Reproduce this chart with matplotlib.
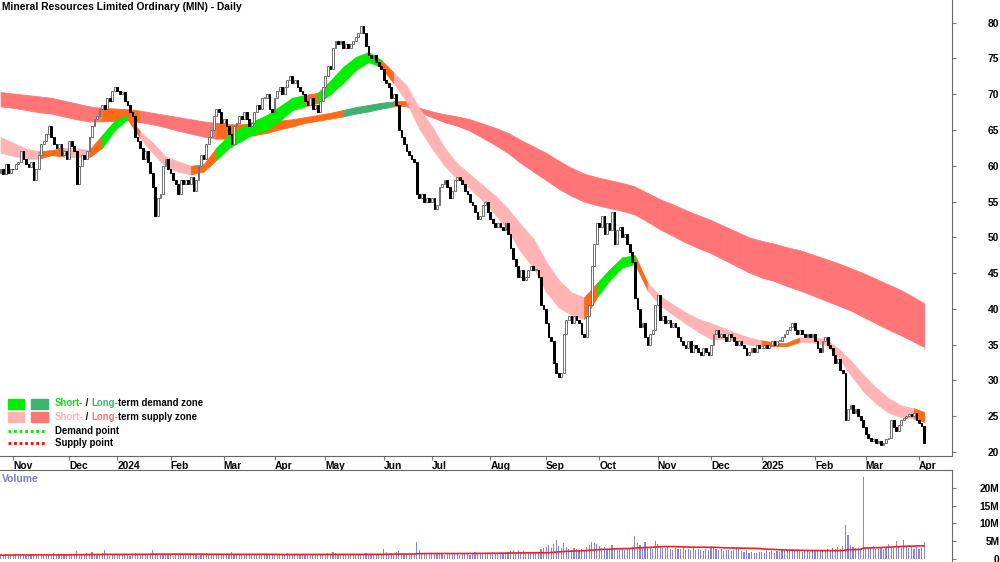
import numpy as np
import pandas as pd
import matplotlib
matplotlib.use("Agg")
import matplotlib.pyplot as plt
from matplotlib import font_manager as fm
from matplotlib.patches import Rectangle
from matplotlib.lines import Line2D

# the chart uses a narrow bold sans; fall back to the normal width, scaled down
try:
    fm.findfont(fm.FontProperties(family='Liberation Sans Narrow', weight='bold'),
                fallback_to_default=False)
    FAMILY, SCALE = 'Liberation Sans Narrow', 1.0
except ValueError:
    FAMILY, SCALE = 'Liberation Sans', 0.82
plt.rcParams['font.family'] = [FAMILY, 'DejaVu Sans']
plt.rcParams['font.weight'] = 'bold'
FS = 9.0 * SCALE
FS_LEG = 8.5 * SCALE

# ---- data ----
title = "Mineral Resources Limited Ordinary (MIN) - Daily"
asx_holidays = ["2023-12-25", "2023-12-26", "2024-01-01", "2024-01-26", "2024-03-29",
                "2024-04-01", "2024-04-25", "2024-06-10", "2024-12-25", "2024-12-26",
                "2025-01-01", "2025-01-27"]

# daily closes, one list per month
first_open = 59.0
c_2023_10 = [59.5, 58.8, 60.2, 59.0, 59.6]
c_2023_11 = [59.5, 60.2, 60.5, 62.0, 61.0, 60.2, 59.8, 60.5, 58.0, 59.5, 61.5, 63.0, 63.5, 64.5,
             65.5, 64.0, 63.0, 62.5, 63.0, 61.5, 62.0, 61.0]
c_2023_12 = [63.5, 62.8, 62.0, 57.5, 60.0, 61.5, 61.0, 62.0, 64.0, 65.5, 66.5, 67.0, 68.0, 68.5,
             68.0, 69.5, 69.0, 70.5, 71.0]
c_2024_01 = [70.5, 70.0, 70.3, 69.0, 68.5, 67.5, 67.0, 64.0, 63.5, 62.5, 61.0, 62.0, 60.5, 59.0,
             57.0, 53.0, 55.5, 56.0, 60.0, 61.0, 59.5]
c_2024_02 = [59.0, 58.0, 57.5, 56.0, 58.0, 57.5, 58.0, 57.5, 58.5, 56.5, 58.0, 60.0, 61.5, 61.0,
             63.0, 64.0, 65.0, 67.0, 68.0, 67.5, 66.0]
c_2024_03 = [66.5, 65.5, 64.5, 63.0, 65.5, 66.0, 67.0, 66.5, 67.5, 66.5, 65.5, 66.0, 67.5, 68.5,
             68.0, 69.5, 69.5, 70.0, 68.0, 67.5]
c_2024_04 = [69.5, 70.5, 71.0, 70.0, 71.0, 72.0, 72.5, 71.5, 72.0, 71.0, 70.5, 70.0, 69.0, 68.5,
             69.5, 68.0, 68.5, 67.5, 69.0, 71.0]
c_2024_05 = [72.5, 74.0, 73.5, 76.5, 77.5, 77.0, 77.5, 76.5, 77.0, 76.5, 77.0, 77.5, 78.0, 78.5,
             79.5, 78.5, 76.8, 75.5, 75.0, 75.5, 74.5, 74.0, 73.5]
c_2024_06 = [72.0, 71.5, 71.0, 69.5, 70.0, 68.5, 65.0, 64.0, 63.0, 62.0, 61.5, 61.0, 60.5, 56.0,
             55.5, 56.0, 55.0, 55.5, 55.0]
c_2024_07 = [55.5, 54.0, 54.5, 57.0, 57.5, 58.0, 57.0, 55.5, 56.5, 58.0, 58.5, 58.0, 57.5, 56.5,
             56.0, 55.0, 54.5, 53.5, 52.5, 53.0, 54.5, 55.0, 53.5]
c_2024_08 = [52.5, 52.0, 51.5, 52.0, 51.5, 51.0, 52.0, 50.5, 48.5, 47.0, 46.0, 44.5, 45.5, 44.0,
             44.5, 45.5, 46.0, 45.5, 45.5, 44.5, 40.5, 40.0]
c_2024_09 = [38.0, 36.0, 35.5, 32.5, 31.0, 30.5, 31.0, 36.5, 38.5, 39.0, 38.0, 39.0, 38.5, 38.0,
             36.5, 36.0, 39.0, 40.5, 46.0, 49.0, 52.0]
c_2024_10 = [51.5, 53.0, 50.5, 52.0, 51.0, 53.5, 49.0, 51.0, 51.5, 50.0, 50.5, 49.0, 48.0, 46.5,
             41.5, 40.0, 37.5, 38.0, 36.0, 35.0, 36.5, 37.0, 40.5]
c_2024_11 = [42.0, 38.5, 39.0, 38.0, 38.5, 37.5, 38.0, 37.5, 36.0, 35.5, 35.0, 34.5, 35.5, 34.0,
             35.0, 34.5, 34.0, 33.5, 34.5, 34.0, 33.5]
c_2024_12 = [35.0, 36.5, 37.0, 36.0, 36.5, 36.0, 35.5, 36.5, 36.0, 35.5, 35.0, 35.5, 35.0, 34.5,
             33.5, 34.0, 34.5, 34.0, 35.0, 34.5]
c_2025_01 = [34.5, 35.0, 34.5, 35.0, 35.5, 35.0, 35.5, 35.5, 36.0, 36.5, 37.0, 37.5, 38.0, 37.0,
             36.5, 37.0, 36.5, 36.0, 36.5, 36.0, 36.5]
c_2025_02 = [35.5, 34.5, 34.0, 35.5, 36.0, 35.0, 34.5, 33.5, 32.5, 33.0, 31.5, 31.0, 24.5, 26.0,
             26.5, 25.5, 26.0, 25.0, 24.5, 23.5]
c_2025_03 = [22.5, 22.0, 21.5, 21.8, 21.2, 21.5, 21.0, 21.3, 21.8, 22.0, 24.5, 23.5, 23.0, 23.8,
             24.5, 24.8, 25.0, 25.3, 25.0, 25.5, 24.5]
c_2025_04 = [24.0, 23.6, 21.3]

# daily volume (millions), one list per month
v_2023_10 = [1.0, 0.8, 1.2, 0.9, 1.1]
v_2023_11 = [0.9, 1.3, 0.8, 1.0, 1.1, 0.7, 0.9, 1.2, 1.4, 1.0, 0.8, 1.1, 0.9, 1.3, 1.0, 0.8, 1.5,
             1.1, 0.9, 1.2, 1.0, 1.3]
v_2023_12 = [1.1, 0.9, 1.4, 2.2, 1.2, 1.0, 1.3, 1.5, 1.1, 1.8, 1.2, 1.4, 1.1, 1.6, 2.4, 1.3, 0.7,
             0.9, 1.1]
v_2024_01 = [1.0, 1.2, 0.9, 1.1, 1.3, 0.8, 1.0, 1.5, 1.2, 1.4, 1.1, 1.3, 1.0, 1.6, 2.5, 1.4, 1.2,
             1.0, 1.3, 0.9, 1.1]
v_2024_02 = [1.0, 0.8, 1.1, 1.3, 0.9, 1.0, 1.2, 0.9, 1.1, 1.4, 1.0, 0.8, 1.2, 1.1, 1.5, 1.3, 1.0,
             1.4, 1.2, 1.0, 1.1]
v_2024_03 = [1.2, 1.5, 1.1, 1.8, 1.3, 1.0, 1.2, 0.9, 1.4, 1.1, 1.0, 1.3, 1.2, 1.0, 1.1, 1.4, 0.9,
             1.2, 1.0, 1.1]
v_2024_04 = [1.0, 1.2, 1.1, 0.9, 1.3, 1.6, 1.2, 1.0, 1.1, 0.9, 1.2, 1.0, 1.3, 1.1, 0.9, 1.4, 1.0,
             1.2, 1.1, 1.3]
v_2024_05 = [1.4, 1.6, 1.2, 1.8, 1.5, 1.1, 1.3, 1.0, 1.2, 0.9, 1.1, 1.3, 1.0, 1.2, 1.4, 1.1, 1.5,
             1.2, 1.0, 1.1, 1.3, 1.2, 1.0]
v_2024_06 = [2.6, 1.8, 1.4, 1.5, 1.2, 1.9, 2.1, 1.3, 1.4, 1.2, 1.1, 1.3, 1.5, 4.6, 2.3, 1.6, 1.4,
             1.2, 1.3]
v_2024_07 = [1.4, 1.7, 1.2, 1.5, 1.3, 1.1, 1.4, 1.2, 1.3, 1.6, 1.2, 1.0, 1.3, 1.5, 1.2, 1.1, 1.4,
             1.8, 1.6, 1.3, 1.2, 1.5, 1.7]
v_2024_08 = [1.6, 1.9, 1.5, 1.4, 1.7, 1.3, 1.5, 1.8, 2.2, 2.5, 1.9, 2.3, 1.8, 2.1, 1.7, 1.6, 1.9,
             1.7, 1.5, 1.8, 2.8, 3.0]
v_2024_09 = [3.4, 3.8, 2.9, 4.2, 5.2, 3.6, 3.1, 4.5, 3.3, 2.8, 2.4, 2.9, 2.6, 2.3, 2.7, 2.5, 3.4,
             3.9, 4.8, 4.4, 4.0]
v_2024_10 = [3.6, 2.9, 3.3, 2.7, 2.6, 3.8, 3.1, 2.5, 2.4, 2.8, 2.3, 2.6, 2.9, 3.4, 6.4, 4.3, 3.7,
             3.2, 4.6, 3.4, 3.0, 2.8, 4.9]
v_2024_11 = [4.2, 3.5, 3.1, 2.9, 3.3, 2.7, 2.5, 3.0, 2.8, 2.6, 3.2, 2.4, 2.7, 2.5, 2.9, 2.3, 2.6,
             2.4, 2.2, 2.8, 2.5]
v_2024_12 = [2.9, 3.3, 2.6, 2.4, 2.7, 2.2, 2.5, 2.3, 2.1, 2.4, 3.0, 2.6, 2.2, 1.9, 2.4, 1.6, 1.8,
             1.5, 1.7, 1.9]
v_2025_01 = [1.8, 1.6, 2.1, 1.9, 2.2, 1.7, 2.0, 1.8, 2.3, 2.5, 2.1, 2.8, 2.6, 2.2, 2.0, 2.4, 1.9,
             2.1, 2.3, 1.8, 2.0]
v_2025_02 = [2.2, 2.5, 2.0, 2.3, 2.1, 2.6, 2.4, 3.1, 2.8, 3.3, 2.7, 3.6, 9.6, 6.6, 3.8, 3.2, 2.9,
             3.0, 2.8, 23.0]
v_2025_03 = [3.4, 3.1, 2.9, 3.5, 2.8, 3.2, 3.0, 2.7, 3.3, 4.0, 3.6, 3.1, 4.9, 3.4, 2.9, 5.2, 3.3,
             3.0, 3.6, 2.8, 3.2]
v_2025_04 = [2.6, 3.0, 4.6]

# trend zones, read every 5 trading days (D = demand, S = supply, N = neutral)
anchor_idx = list(range(0, 361, 5)) + [364]
short_hi = [64.0, 63.2, 62.4, 62.0, 62.2, 62.5, 62.4, 62.2, 64.3, 66.3,
            67.1, 64.8, 63.2, 61.3, 60.6, 60.0, 60.2, 62.5, 64.3, 65.4,
            66.3, 67.1, 68.3, 69.5, 69.9, 70.2, 71.9, 73.8, 75.2, 75.9,
            74.8, 73.0, 71.2, 68.0, 65.5, 62.5, 60.3, 58.8, 57.3, 55.8,
            54.0, 51.8, 49.8, 46.6, 44.0, 42.3, 41.6, 43.6, 45.5, 47.2,
            47.5, 43.6, 41.8, 40.6, 39.5, 38.6, 38.0, 37.3, 36.6, 36.0,
            35.6, 35.3, 35.3, 36.0, 36.0, 35.8, 34.5, 32.8, 30.8, 29.0,
            27.5, 26.5, 26.1, 25.6]
short_lo = [61.8, 61.4, 61.0, 61.0, 61.5, 61.3, 61.2, 61.2, 62.5, 65.0,
            66.5, 63.9, 61.8, 59.9, 59.2, 58.8, 59.2, 60.8, 62.5, 63.5,
            64.5, 65.0, 66.3, 67.8, 68.3, 68.8, 70.0, 71.6, 73.4, 74.5,
            73.8, 71.5, 69.0, 65.2, 62.5, 60.0, 58.2, 56.8, 55.2, 53.2,
            51.0, 48.0, 45.8, 42.4, 40.2, 39.2, 38.6, 41.6, 44.0, 45.8,
            46.3, 42.6, 40.5, 39.2, 38.0, 36.8, 35.8, 35.8, 35.5, 35.0,
            34.8, 34.8, 34.8, 35.4, 35.3, 35.0, 33.4, 30.8, 28.5, 26.8,
            25.5, 24.9, 24.7, 24.2]
short_zone = "SSSNNSSNDD" "NSSSSNNDDD" "DDDDNDDDDD" "NSSSSSSSSS" "SSSSSSNDDD" "NSSSSSSSSS" "NNNSSSSSSS" "SSNN"
long_hi = [70.3, 70.1, 69.9, 69.7, 69.5, 69.1, 68.7, 68.3, 68.1, 68.0,
           67.9, 67.7, 67.4, 67.1, 66.8, 66.5, 66.2, 66.0, 65.8, 65.8,
           65.9, 66.1, 66.3, 66.5, 66.8, 67.1, 67.4, 67.8, 68.2, 68.5,
           68.8, 69.0, 69.0, 68.1, 67.6, 67.2, 66.9, 66.5, 65.9, 65.3,
           64.6, 63.6, 62.7, 61.8, 60.7, 59.7, 58.9, 58.4, 58.0, 57.6,
           57.1, 56.2, 55.3, 54.6, 53.8, 53.1, 52.4, 51.6, 50.8, 50.0,
           49.5, 49.1, 48.6, 48.2, 47.6, 47.0, 46.4, 45.7, 45.0, 44.2,
           43.4, 42.6, 41.6, 40.8]
long_lo = [68.3, 68.1, 67.8, 67.5, 67.3, 66.9, 66.5, 66.2, 66.2, 66.3,
           66.4, 66.1, 65.8, 65.4, 64.9, 64.5, 64.1, 63.8, 63.8, 64.0,
           64.3, 64.6, 65.1, 65.5, 66.0, 66.3, 66.6, 66.9, 67.3, 67.6,
           68.0, 68.3, 68.3, 67.5, 66.8, 66.1, 65.6, 64.9, 63.9, 62.9,
           61.8, 60.4, 59.2, 58.0, 56.8, 55.8, 55.0, 54.5, 54.1, 53.7,
           53.2, 52.2, 51.1, 50.2, 49.3, 48.5, 47.8, 46.9, 46.0, 45.1,
           44.4, 43.9, 43.2, 42.6, 41.9, 41.2, 40.5, 39.8, 38.9, 38.0,
           37.1, 36.3, 35.4, 34.7]
long_zone = "SSSSSSSSNN" "NSSSSSSNNN" "NNNNNNNDDD" "DNSSSSSSSS" + "S" * 34

price_ticks = list(range(20, 81, 5))
vol_ticks = [0, 5, 10, 15, 20]
vol_tick_labels = ["0", "5M", "10M", "15M", "20M"]

# ---- assemble ----
closes = np.concatenate([c_2023_10, c_2023_11, c_2023_12, c_2024_01, c_2024_02, c_2024_03,
                         c_2024_04, c_2024_05, c_2024_06, c_2024_07, c_2024_08, c_2024_09,
                         c_2024_10, c_2024_11, c_2024_12, c_2025_01, c_2025_02, c_2025_03,
                         c_2025_04])
volume = np.concatenate([v_2023_10, v_2023_11, v_2023_12, v_2024_01, v_2024_02, v_2024_03,
                         v_2024_04, v_2024_05, v_2024_06, v_2024_07, v_2024_08, v_2024_09,
                         v_2024_10, v_2024_11, v_2024_12, v_2025_01, v_2025_02, v_2025_03,
                         v_2025_04])
dates = pd.bdate_range("2023-10-25", "2025-04-03", freq="C", holidays=asx_holidays)
n = len(closes)
dates = dates[:n]
x = np.arange(n)
opens = np.r_[first_open, closes[:-1]]

W, H = 1000, 562
fig = plt.figure(figsize=(10, 5.62), dpi=100)
ax = fig.add_axes([0, 1 - 455.7 / H, 952 / W, 455.7 / H])
axv = fig.add_axes([0, 0, 952 / W, 92 / H], sharex=ax)

short_cols = {'D': '#00ee00', 'S': '#ffb3b3', 'N': '#ff6a1a'}
long_cols = {'D': '#3cb371', 'S': '#ff7575', 'N': '#ff6a1a'}


def draw_band(lo, hi, zones, cols, z):
    for j in range(len(anchor_idx) - 1):
        c = cols[zones[j]]
        ax.fill_between(anchor_idx[j:j + 2], lo[j:j + 2], hi[j:j + 2], color=c, lw=0.6, zorder=z)


draw_band(long_lo, long_hi, long_zone, long_cols, 1)
draw_band(short_lo, short_hi, short_zone, short_cols, 2)

# candles
up = closes >= opens
body_lo = np.minimum(opens, closes)
body_h = np.maximum(np.abs(closes - opens), 0.1)
ax.bar(x[up], body_h[up], bottom=body_lo[up], width=0.7, color='white',
       edgecolor='#707070', linewidth=0.7, zorder=3)
ax.bar(x[~up], body_h[~up], bottom=body_lo[~up], width=0.7, color='black',
       edgecolor='black', linewidth=0.7, zorder=3)

# volume
axv.bar(x, volume, width=0.45, color='#8686d8', zorder=2)
vol_ma = pd.Series(volume).rolling(50, min_periods=1).mean()
axv.plot(x, vol_ma, color='#ff1a1a', lw=1.2, zorder=3)

# axes styling
ax.set_xlim(-0.24, 375.0)
ax.set_ylim(19.48, 83.17)
axv.set_ylim(-0.99, 25.1)

month_start = [i for i in range(1, n) if dates[i].month != dates[i - 1].month]
month_lab = [str(dates[i].year) if dates[i].month == 1 else dates[i].strftime('%b')
             for i in month_start]
ax.set_xticks(month_start, month_lab)
ax.tick_params(axis='x', direction='out', length=3, pad=0.5, labelsize=FS,
               color='#777777', labelcolor='black')
for t in ax.get_xticklabels():
    t.set_horizontalalignment('left')

ax.yaxis.tick_right()
ax.set_yticks(price_ticks)
ax.tick_params(axis='y', direction='out', length=3, pad=31, labelsize=FS,
               color='#777777', labelcolor='black')
for t in ax.get_yticklabels():
    t.set_horizontalalignment('right')

axv.yaxis.tick_right()
axv.set_yticks(vol_ticks, vol_tick_labels)
axv.tick_params(axis='y', direction='out', length=3, pad=31, labelsize=FS,
                color='#777777', labelcolor='black')
for t in axv.get_yticklabels():
    t.set_horizontalalignment('right')
axv.tick_params(axis='x', bottom=False, labelbottom=False)

for s in ['left', 'top']:
    ax.spines[s].set_visible(False)
for s in ['left', 'bottom']:
    axv.spines[s].set_visible(False)
for a in (ax, axv):
    for s in a.spines.values():
        s.set_color('#666666')
        s.set_linewidth(0.8)

# title and labels
fig.text(2 / W, 1 - 7.5 / H, title, fontsize=FS, fontweight='bold', va='center', ha='left')
fig.text(2 / W, 1 - 479 / H, "Volume", fontsize=FS, fontweight='bold', color='#7a7ac2',
         va='center', ha='left')

# legend
renderer = fig.canvas.get_renderer()


def tw(s):
    t = fig.text(0, 0, s, fontsize=FS_LEG, fontweight='bold')
    w = t.get_window_extent(renderer).width
    t.remove()
    return w


def rich(x0, y0, parts):
    prefix = ""
    for s, c in parts:
        off = tw(prefix + "x") - tw("x") if prefix else 0
        fig.text((x0 + off) / W, 1 - y0 / H, s, fontsize=FS_LEG, fontweight='bold', color=c,
                 va='center', ha='left')
        prefix += s


rows = [403.5, 417, 431, 442.5]
fig.add_artist(Rectangle((7.5 / W, 1 - 408.5 / H), 16.5 / W, 10 / H, transform=fig.transFigure,
                         color=short_cols['D']))
fig.add_artist(Rectangle((31 / W, 1 - 408.5 / H), 17 / W, 10 / H, transform=fig.transFigure,
                         color=long_cols['D']))
fig.add_artist(Rectangle((7.5 / W, 1 - 422 / H), 16.5 / W, 10 / H, transform=fig.transFigure,
                         color=short_cols['S']))
fig.add_artist(Rectangle((31 / W, 1 - 422 / H), 17 / W, 10 / H, transform=fig.transFigure,
                         color=long_cols['S']))
rich(55, rows[0], [("Short-", '#11dd11'), (" / ", 'black'), ("Long-", long_cols['D']),
                   ("term demand zone", 'black')])
rich(55, rows[1], [("Short-", short_cols['S']), (" / ", 'black'), ("Long-", long_cols['S']),
                   ("term supply zone", 'black')])
fig.add_artist(Line2D([7.5 / W, 45 / W], [1 - rows[2] / H] * 2, transform=fig.transFigure,
                      color='#00ee00', lw=2.0, dashes=(1, 1)))
fig.add_artist(Line2D([7.5 / W, 45 / W], [1 - rows[3] / H] * 2, transform=fig.transFigure,
                      color='#ff0000', lw=2.0, dashes=(1, 1)))
fig.text(55 / W, 1 - rows[2] / H, "Demand point", fontsize=FS_LEG, fontweight='bold', va='center')
fig.text(55 / W, 1 - rows[3] / H, "Supply point", fontsize=FS_LEG, fontweight='bold', va='center')

fig.savefig("out.png", dpi=100)
